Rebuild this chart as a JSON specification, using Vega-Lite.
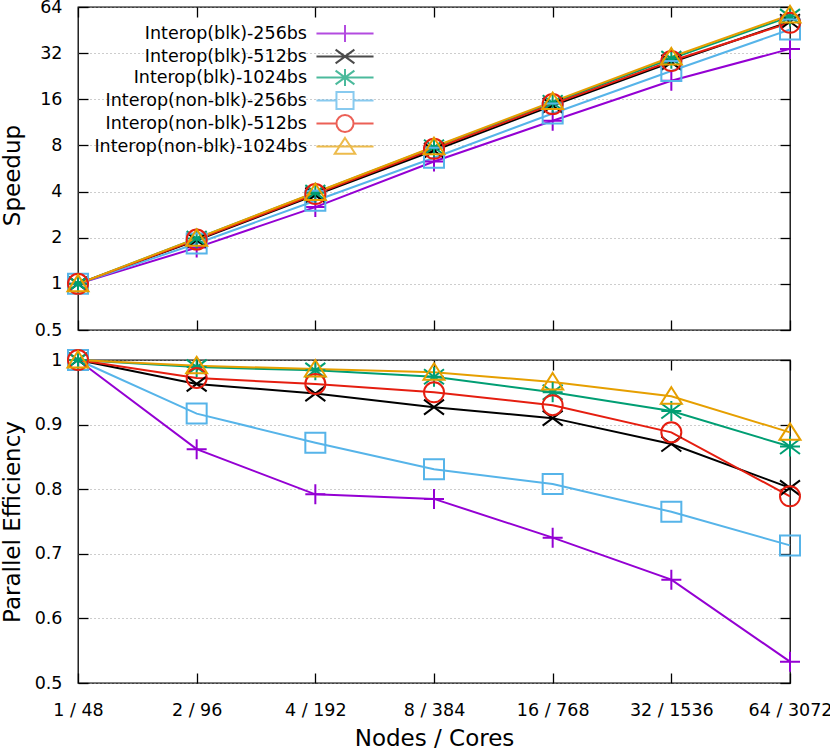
{
  "$schema": "https://vega.github.io/schema/vega-lite/v6.json",
  "padding": {"left": 0, "top": -3, "right": 0, "bottom": 0},
  "config": {
    "font": "DejaVu Sans",
    "view": {"stroke": "#000", "strokeWidth": 1.3},
    "axis": {
      "labelFont": "DejaVu Sans", "labelFontSize": 17.5, "labelColor": "#000",
      "titleFont": "DejaVu Sans", "titleFontSize": 23, "titleFontWeight": "normal", "titleColor": "#000",
      "domain": false, "tickColor": "#000", "tickSize": -10, "tickWidth": 1.3,
      "gridColor": "#9a9a9a", "gridDash": [1, 3], "gridWidth": 1
    }
  },
  "datasets": {
    "d": [
      {"s": "Interop(blk)-256bs", "x": "1 / 48", "speedup": 1, "eff": 1},
      {"s": "Interop(blk)-256bs", "x": "2 / 96", "speedup": 1.724, "eff": 0.862},
      {"s": "Interop(blk)-256bs", "x": "4 / 192", "speedup": 3.168, "eff": 0.792},
      {"s": "Interop(blk)-256bs", "x": "8 / 384", "speedup": 6.28, "eff": 0.785},
      {"s": "Interop(blk)-256bs", "x": "16 / 768", "speedup": 11.6, "eff": 0.725},
      {"s": "Interop(blk)-256bs", "x": "32 / 1536", "speedup": 21.12, "eff": 0.66},
      {"s": "Interop(blk)-256bs", "x": "64 / 3072", "speedup": 34.11, "eff": 0.533},
      {"s": "Interop(blk)-512bs", "x": "1 / 48", "speedup": 1, "eff": 1},
      {"s": "Interop(blk)-512bs", "x": "2 / 96", "speedup": 1.926, "eff": 0.963},
      {"s": "Interop(blk)-512bs", "x": "4 / 192", "speedup": 3.792, "eff": 0.948},
      {"s": "Interop(blk)-512bs", "x": "8 / 384", "speedup": 7.416, "eff": 0.927},
      {"s": "Interop(blk)-512bs", "x": "16 / 768", "speedup": 14.56, "eff": 0.91},
      {"s": "Interop(blk)-512bs", "x": "32 / 1536", "speedup": 27.84, "eff": 0.87},
      {"s": "Interop(blk)-512bs", "x": "64 / 3072", "speedup": 51.33, "eff": 0.802},
      {"s": "Interop(blk)-1024bs", "x": "1 / 48", "speedup": 1, "eff": 1},
      {"s": "Interop(blk)-1024bs", "x": "2 / 96", "speedup": 1.978, "eff": 0.989},
      {"s": "Interop(blk)-1024bs", "x": "4 / 192", "speedup": 3.936, "eff": 0.984},
      {"s": "Interop(blk)-1024bs", "x": "8 / 384", "speedup": 7.792, "eff": 0.974},
      {"s": "Interop(blk)-1024bs", "x": "16 / 768", "speedup": 15.2, "eff": 0.95},
      {"s": "Interop(blk)-1024bs", "x": "32 / 1536", "speedup": 29.47, "eff": 0.921},
      {"s": "Interop(blk)-1024bs", "x": "64 / 3072", "speedup": 55.42, "eff": 0.866},
      {"s": "Interop(non-blk)-256bs", "x": "1 / 48", "speedup": 1, "eff": 1},
      {"s": "Interop(non-blk)-256bs", "x": "2 / 96", "speedup": 1.834, "eff": 0.917},
      {"s": "Interop(non-blk)-256bs", "x": "4 / 192", "speedup": 3.488, "eff": 0.872},
      {"s": "Interop(non-blk)-256bs", "x": "8 / 384", "speedup": 6.648, "eff": 0.831},
      {"s": "Interop(non-blk)-256bs", "x": "16 / 768", "speedup": 12.93, "eff": 0.808},
      {"s": "Interop(non-blk)-256bs", "x": "32 / 1536", "speedup": 24.48, "eff": 0.765},
      {"s": "Interop(non-blk)-256bs", "x": "64 / 3072", "speedup": 45.63, "eff": 0.713},
      {"s": "Interop(non-blk)-512bs", "x": "1 / 48", "speedup": 1, "eff": 1},
      {"s": "Interop(non-blk)-512bs", "x": "2 / 96", "speedup": 1.944, "eff": 0.972},
      {"s": "Interop(non-blk)-512bs", "x": "4 / 192", "speedup": 3.852, "eff": 0.963},
      {"s": "Interop(non-blk)-512bs", "x": "8 / 384", "speedup": 7.6, "eff": 0.95},
      {"s": "Interop(non-blk)-512bs", "x": "16 / 768", "speedup": 14.88, "eff": 0.93},
      {"s": "Interop(non-blk)-512bs", "x": "32 / 1536", "speedup": 28.42, "eff": 0.888},
      {"s": "Interop(non-blk)-512bs", "x": "64 / 3072", "speedup": 50.5, "eff": 0.789},
      {"s": "Interop(non-blk)-1024bs", "x": "1 / 48", "speedup": 1, "eff": 1},
      {"s": "Interop(non-blk)-1024bs", "x": "2 / 96", "speedup": 1.982, "eff": 0.991},
      {"s": "Interop(non-blk)-1024bs", "x": "4 / 192", "speedup": 3.944, "eff": 0.986},
      {"s": "Interop(non-blk)-1024bs", "x": "8 / 384", "speedup": 7.848, "eff": 0.981},
      {"s": "Interop(non-blk)-1024bs", "x": "16 / 768", "speedup": 15.46, "eff": 0.966},
      {"s": "Interop(non-blk)-1024bs", "x": "32 / 1536", "speedup": 30.21, "eff": 0.944},
      {"s": "Interop(non-blk)-1024bs", "x": "64 / 3072", "speedup": 56.83, "eff": 0.888}
    ]
  },
  "spacing": 5,
  "resolve": {"scale": {"color": "independent", "shape": "independent"}},
  "vconcat": [
    {
      "width": 712, "height": 323,
      "data": {"name": "d"},
      "resolve": {"axis": {"x": "independent", "y": "independent"}, "scale": {"color": "independent", "shape": "independent"}},
      "layer": [
        {
          "mark": {"type": "line", "strokeWidth": 2},
          "encoding": {
            "x": {"field": "x", "type": "ordinal", "scale": {"type": "point", "padding": 0, "domain": ["1 / 48", "2 / 96", "4 / 192", "8 / 384", "16 / 768", "32 / 1536", "64 / 3072"]}, "axis": {"orient": "top", "labels": false, "title": null, "grid": false}},
            "y": {"field": "speedup", "type": "quantitative", "scale": {"type": "log", "base": 2, "domain": [0.5, 64]}, "axis": {"orient": "right", "labels": false, "title": null, "grid": false, "values": [0.5, 1, 2, 4, 8, 16, 32, 64]}},
            "color": {"field": "s", "type": "nominal", "scale": {"domain": ["Interop(blk)-256bs", "Interop(blk)-512bs", "Interop(blk)-1024bs", "Interop(non-blk)-256bs", "Interop(non-blk)-512bs", "Interop(non-blk)-1024bs"], "range": ["#9400d3", "#000000", "#009e73", "#56b4e9", "#e51e10", "#e69f00"]}, "legend": null}
          }
        },
        {
          "mark": {"type": "point", "filled": false, "size": 400, "strokeWidth": 2, "opacity": 1},
          "encoding": {
            "x": {"field": "x", "type": "ordinal", "scale": {"type": "point", "padding": 0, "domain": ["1 / 48", "2 / 96", "4 / 192", "8 / 384", "16 / 768", "32 / 1536", "64 / 3072"]}, "axis": {"orient": "bottom", "labels": false, "title": null, "grid": false}},
            "y": {"field": "speedup", "type": "quantitative", "scale": {"type": "log", "base": 2, "domain": [0.5, 64]}, "axis": {"orient": "left", "title": "Speedup", "titleY": 168, "values": [0.5, 1, 2, 4, 8, 16, 32, 64], "format": "~g", "grid": true, "labelPadding": 26, "titlePadding": 10}},
            "color": {"field": "s", "type": "nominal", "scale": {"domain": ["Interop(blk)-256bs", "Interop(blk)-512bs", "Interop(blk)-1024bs", "Interop(non-blk)-256bs", "Interop(non-blk)-512bs", "Interop(non-blk)-1024bs"], "range": ["#9400d3", "#000000", "#009e73", "#56b4e9", "#e51e10", "#e69f00"]}, "legend": null},
            "shape": {"field": "s", "type": "nominal", "scale": {"domain": ["Interop(blk)-256bs", "Interop(blk)-512bs", "Interop(blk)-1024bs", "Interop(non-blk)-256bs", "Interop(non-blk)-512bs", "Interop(non-blk)-1024bs"], "range": ["M-1,0L1,0M0,-1L0,1", "M-1,-0.75L1,0.75M-1,0.75L1,-0.75", "M-1,0L1,0M0,-1L0,1M-1,-0.75L1,0.75M-1,0.75L1,-0.75", "square", "circle", "M0,-0.9L1.05,0.75L-1.05,0.75Z"]}, "legend": null}
          }
        },
        {
          "transform": [{"filter": "false"}],
          "mark": {"type": "point", "filled": false, "size": 292, "strokeWidth": 2},
          "encoding": {
            "x": {"field": "x", "type": "ordinal", "scale": {"type": "point", "padding": 0, "domain": ["1 / 48", "2 / 96", "4 / 192", "8 / 384", "16 / 768", "32 / 1536", "64 / 3072"]}, "axis": null},
            "y": {"field": "speedup", "type": "quantitative", "scale": {"type": "log", "base": 2, "domain": [0.5, 64]}, "axis": null},
            "color": {"field": "s", "type": "nominal", "scale": {"domain": ["Interop(blk)-256bs", "Interop(blk)-512bs", "Interop(blk)-1024bs", "Interop(non-blk)-256bs", "Interop(non-blk)-512bs", "Interop(non-blk)-1024bs"], "range": ["#9400d3", "#000000", "#009e73", "#56b4e9", "#e51e10", "#e69f00"]},
              "legend": {"title": null, "orient": "none", "legendX": 257, "legendY": 16.5, "padding": 0, "labelAlign": "right", "labelOffset": -48, "symbolSize": 292, "symbolStrokeWidth": 2, "rowPadding": -8.5, "labelFont": "DejaVu Sans", "labelFontSize": 17.5, "labelColor": "#000", "labelLimit": 0}},
            "shape": {"field": "s", "type": "nominal", "scale": {"domain": ["Interop(blk)-256bs", "Interop(blk)-512bs", "Interop(blk)-1024bs", "Interop(non-blk)-256bs", "Interop(non-blk)-512bs", "Interop(non-blk)-1024bs"], "range": ["M-3.34,0L3.34,0M0,-1L0,1", "M-3.34,0L3.34,0M-1.1,-0.8L1.1,0.8M-1.1,0.8L1.1,-0.8", "M-3.34,0L3.34,0M0,-1L0,1M-1.1,-0.8L1.1,0.8M-1.1,0.8L1.1,-0.8", "M-3.34,0L-1,0M1,0L3.34,0M-1,-1L1,-1L1,1L-1,1Z", "M-3.34,0L-1,0M1,0L3.34,0M1,0A1,1,0,1,1,-1,0A1,1,0,1,1,1,0Z", "M-3.34,0L3.34,0M0,-1L1.2,0.85L-1.2,0.85Z"]},
              "legend": {"title": null, "orient": "none", "legendX": 257, "legendY": 16.5, "padding": 0, "labelAlign": "right", "labelOffset": -48, "symbolSize": 292, "symbolStrokeWidth": 2, "rowPadding": -8.5, "labelFont": "DejaVu Sans", "labelFontSize": 17.5, "labelColor": "#000", "labelLimit": 0}}
          }
        }
      ]
    },
    {
      "width": 712, "height": 323,
      "data": {"name": "d"},
      "resolve": {"axis": {"x": "independent", "y": "independent"}},
      "layer": [
        {
          "mark": {"type": "line", "strokeWidth": 2},
          "encoding": {
            "x": {"field": "x", "type": "ordinal", "scale": {"type": "point", "padding": 0, "domain": ["1 / 48", "2 / 96", "4 / 192", "8 / 384", "16 / 768", "32 / 1536", "64 / 3072"]}, "axis": {"orient": "top", "labels": false, "title": null, "grid": false}},
            "y": {"field": "eff", "type": "quantitative", "scale": {"domain": [0.5, 1]}, "axis": {"orient": "right", "labels": false, "title": null, "grid": false, "values": [0.5, 0.6, 0.7, 0.8, 0.9, 1]}},
            "color": {"field": "s", "type": "nominal", "scale": {"domain": ["Interop(blk)-256bs", "Interop(blk)-512bs", "Interop(blk)-1024bs", "Interop(non-blk)-256bs", "Interop(non-blk)-512bs", "Interop(non-blk)-1024bs"], "range": ["#9400d3", "#000000", "#009e73", "#56b4e9", "#e51e10", "#e69f00"]}, "legend": null}
          }
        },
        {
          "mark": {"type": "point", "filled": false, "size": 400, "strokeWidth": 2, "opacity": 1},
          "encoding": {
            "x": {"field": "x", "type": "ordinal", "scale": {"type": "point", "padding": 0, "domain": ["1 / 48", "2 / 96", "4 / 192", "8 / 384", "16 / 768", "32 / 1536", "64 / 3072"]}, "axis": {"orient": "bottom", "title": "Nodes / Cores", "labelAngle": 0, "grid": false, "labelPadding": 28, "titlePadding": 9}},
            "y": {"field": "eff", "type": "quantitative", "scale": {"domain": [0.5, 1]}, "axis": {"orient": "left", "title": "Parallel Efficiency", "values": [0.5, 0.6, 0.7, 0.8, 0.9, 1], "format": "~g", "grid": true, "labelPadding": 26, "titlePadding": 10}},
            "color": {"field": "s", "type": "nominal", "scale": {"domain": ["Interop(blk)-256bs", "Interop(blk)-512bs", "Interop(blk)-1024bs", "Interop(non-blk)-256bs", "Interop(non-blk)-512bs", "Interop(non-blk)-1024bs"], "range": ["#9400d3", "#000000", "#009e73", "#56b4e9", "#e51e10", "#e69f00"]}, "legend": null},
            "shape": {"field": "s", "type": "nominal", "scale": {"domain": ["Interop(blk)-256bs", "Interop(blk)-512bs", "Interop(blk)-1024bs", "Interop(non-blk)-256bs", "Interop(non-blk)-512bs", "Interop(non-blk)-1024bs"], "range": ["M-1,0L1,0M0,-1L0,1", "M-1,-0.75L1,0.75M-1,0.75L1,-0.75", "M-1,0L1,0M0,-1L0,1M-1,-0.75L1,0.75M-1,0.75L1,-0.75", "square", "circle", "M0,-0.9L1.05,0.75L-1.05,0.75Z"]}, "legend": null}
          }
        }
      ]
    }
  ]
}
